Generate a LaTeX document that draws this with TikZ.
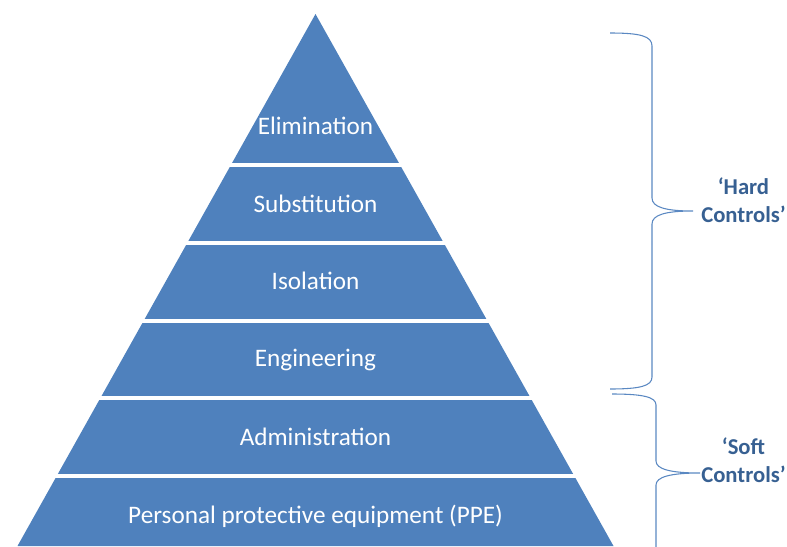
\documentclass[tikz,border=0pt]{standalone}
\usepackage{fontspec}
\setmainfont{Carlito}
\definecolor{pyr}{HTML}{4F81BD}
\definecolor{lbl}{HTML}{376092}
\definecolor{brc}{HTML}{5A88C2}
\begin{document}
\begin{tikzpicture}[x=0.75pt,y=-0.75pt,
  band/.style={text=white,font=\fontsize{18.9}{22}\selectfont,inner sep=0pt},
  side/.style={text=lbl,font=\fontsize{17}{21}\selectfont\bfseries,align=center,inner sep=0pt},
  gap/.style={white,line width=2.3pt},
  bracel/.style={brc,line width=0.8pt}]
\useasboundingbox (0,0) rectangle (787,546);
\begin{scope}
\clip (0,0) rectangle (787,546);
\fill[pyr] (315.5,14) -- (613.5,546) -- (17.5,546) -- cycle;
\foreach \y in {165,243,321,398,476} \draw[gap] (0,\y) -- (787,\y);
\end{scope}
\node[band] (elim) at (315.5,126) {Elimination};
\node[band] (subs) at (315.5,204) {Substitution};
\node[band] (isol) at (315.5,281) {Isolation};
\node[band] (engi) at (315.5,359.5) {Engineering};
\node[band] (admi) at (315.5,437) {Administration};
\node[band] (ppe) at (315.5,516) {Personal protective equipment (PPE)};
% braces
\coordinate (h1) at (693,211);
\coordinate (s1) at (700,473);
\draw[bracel] (610,33) .. controls (640,33) and (652,36) .. (652,46)
  -- (652,198) .. controls (652,207) and (665,211) .. (h1)
  (h1) .. controls (665,211) and (652,215) .. (652,224)
  -- (652,377) .. controls (652,386) and (640,389) .. (610,389);
\begin{scope}
\clip (0,0) rectangle (787,546);
\draw[bracel] (612,394) .. controls (643,394) and (656,397) .. (656,405)
  -- (656,461) .. controls (656,469) and (670,473) .. (s1)
  (s1) .. controls (670,473) and (656,477) .. (656,485)
  -- (656,560);
\end{scope}
\node[side,anchor=west] (hard) at (701,200) {‘Hard\\Controls’};
\node[side,anchor=west] (soft) at (701,460) {‘Soft\\Controls’};
\end{tikzpicture}
\end{document}
